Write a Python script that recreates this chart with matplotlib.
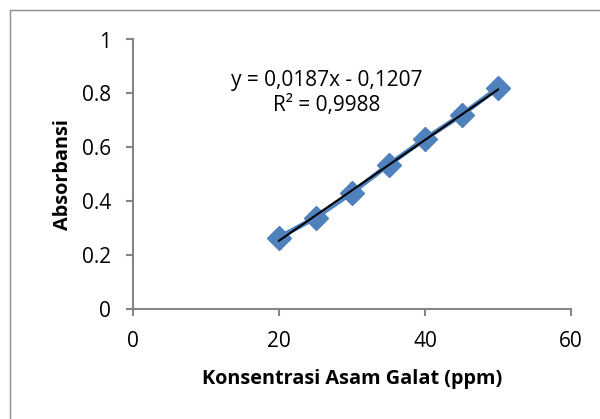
import numpy as np
import matplotlib.pyplot as plt
from matplotlib.patches import Rectangle

# data
konsentrasi = [20, 25, 30, 35, 40, 45, 50]
absorbansi = [0.265, 0.339, 0.432, 0.535, 0.631, 0.720, 0.820]
slope = 0.0187
intercept = -0.1207
r2 = 0.9988

x_ticks = [0, 20, 40, 60]
y_ticks = [0, 0.2, 0.4, 0.6, 0.8, 1.0]
y_labels = ['0', '0.2', '0.4', '0.6', '0.8', '1']

plt.rcParams['font.family'] = ['Open Sans', 'DejaVu Sans']

fig = plt.figure(figsize=(6, 4.19), dpi=100)
fig.patch.set_facecolor('white')

# chart area border (runs off right and bottom like the screenshot)
fig.patches.append(Rectangle((9.5 / 600, -0.1), 1.2, (419 - 10) / 419 + 0.1,
                             transform=fig.transFigure, fill=False,
                             edgecolor='#8c8c8c', linewidth=1.0))

ax = fig.add_axes([133 / 600, (419 - 309) / 419, (571 - 133) / 600, (309 - 39.5) / 419])

ax.plot(konsentrasi, absorbansi, color='#4F81BD', linewidth=3.5,
        marker='D', markersize=12, markeredgecolor='#4F81BD', zorder=3)

xt = np.array([konsentrasi[0], konsentrasi[-1]])
ax.plot(xt, slope * xt + intercept, color='black', linewidth=1.5, zorder=4)

eq_text = 'y = {:.4f}x - {:.4f}\nR² = {:.4f}'.format(slope, -intercept, r2).replace('.', ',')
ax.text(26.6, 0.80, eq_text, ha='center', va='center', fontsize=15, linespacing=1.25)

ax.set_xlim(0, 60)
ax.set_ylim(0, 1)
ax.set_xticks(x_ticks)
ax.set_yticks(y_ticks)
ax.set_yticklabels(y_labels)

for s in ['top', 'right']:
    ax.spines[s].set_visible(False)
for s in ['left', 'bottom']:
    ax.spines[s].set_color('#868686')
    ax.spines[s].set_linewidth(1.5)
ax.tick_params(direction='out', length=5, width=1.5, color='#868686',
               labelsize=15, pad=11)

ax.set_xlabel('Konsentrasi Asam Galat (ppm)', fontsize=14.3, fontweight='bold', labelpad=12)
ax.set_ylabel('Absorbansi', fontsize=14.3, fontweight='bold', labelpad=6)

fig.savefig('out.png', dpi=100)
